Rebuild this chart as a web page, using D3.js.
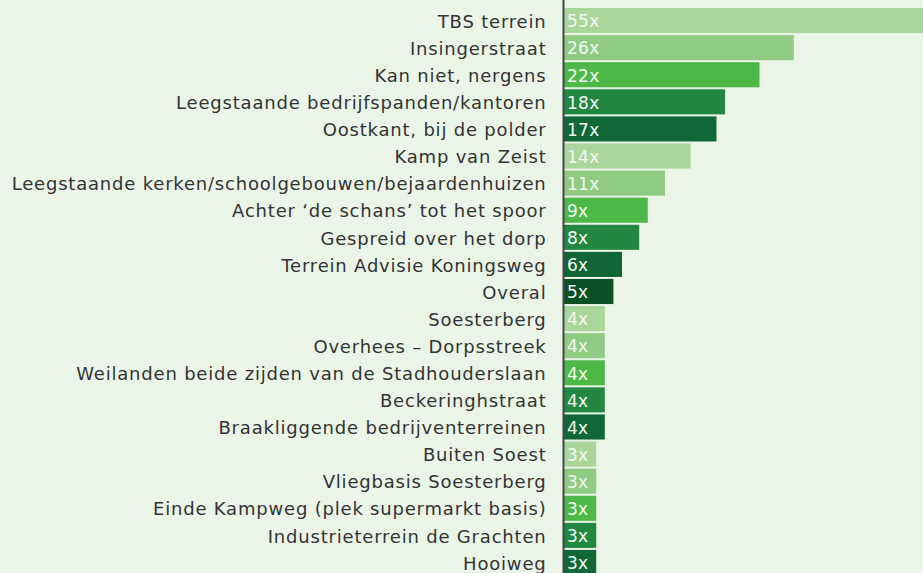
<!DOCTYPE html>
<html>
<head>
<meta charset="utf-8">
<script src="https://cdn.jsdelivr.net/npm/d3@7"></script>
<style>
  html, body { margin:0; padding:0; background:#eaf5e8; overflow:hidden; }
  svg { display:block; }
</style>
</head>
<body>
<svg id="chart"></svg>
<script>
const locations = [
  'TBS terrein', 'Insingerstraat', 'Kan niet, nergens',
  'Leegstaande bedrijfspanden/kantoren', 'Oostkant, bij de polder',
  'Kamp van Zeist', 'Leegstaande kerken/schoolgebouwen/bejaardenhuizen',
  'Achter \u2018de schans\u2019 tot het spoor', 'Gespreid over het dorp',
  'Terrein Advisie Koningsweg', 'Overal', 'Soesterberg',
  'Overhees \u2013 Dorpsstreek', 'Weilanden beide zijden van de Stadhouderslaan',
  'Beckeringhstraat', 'Braakliggende bedrijventerreinen', 'Buiten Soest',
  'Vliegbasis Soesterberg', 'Einde Kampweg (plek supermarkt basis)',
  'Industrieterrein de Grachten', 'Hooiweg'
];
const counts = [55, 26, 22, 18, 17, 14, 11, 9, 8, 6, 5, 4, 4, 4, 4, 4, 3, 3, 3, 3, 3];
const barColors = [
  '#aad69b', '#8fcb83', '#4db848', '#218741', '#106836',
  '#aad69b', '#8fcb83', '#4db848', '#218741', '#106535', '#0b4f27',
  '#aad69b', '#8fcb83', '#4db848', '#218741', '#106836',
  '#aad69b', '#8fcb83', '#4db848', '#218741', '#106836'
];

const width = 923, height = 573;
const margin = { top: 8, left: 564 };

const svg = d3.select('#chart')
  .attr('width', width)
  .attr('height', height);

// y bands, 27px per row
const y = d3.scaleBand()
  .domain(locations)
  .range([margin.top, margin.top + 27 * locations.length])
  .paddingInner(2 / 27)
  .paddingOuter(0);

// bars have a small base width, 55x runs off the right edge
const x = d3.scaleLinear().domain([-0.75, 55]).range([margin.left, margin.left + 479]);

svg.append('g')
  .selectAll('rect')
  .data(counts)
  .enter()
  .append('rect')
  .attr('x', margin.left)
  .attr('y', (d, i) => y(locations[i]))
  .attr('width', d => x(d) - margin.left)
  .attr('height', y.bandwidth())
  .attr('fill', (d, i) => barColors[i]);

// value labels in the bars
svg.append('g')
  .selectAll('text')
  .data(counts)
  .enter()
  .append('text')
  .attr('x', margin.left + 3)
  .attr('y', (d, i) => y(locations[i]) + y.bandwidth() / 2)
  .attr('dy', '0.4em')
  .style('font-family', '"DejaVu Sans", Verdana, sans-serif')
  .style('font-size', '17px')
  .style('letter-spacing', '0.3px')
  .style('fill', '#f4f8f2')
  .text(d => d + 'x');

// category axis
const yAxis = d3.axisLeft(y).tickSize(0).tickPadding(17);
const gy = svg.append('g')
  .attr('transform', `translate(${margin.left - 0.5},0)`)
  .call(yAxis);
gy.select('.domain')
  .attr('d', `M0,0V${height}`)
  .attr('stroke', '#444')
  .attr('stroke-width', 2);
gy.selectAll('text')
  .attr('dy', '0.4em')
  .style('font-family', '"DejaVu Sans", Verdana, sans-serif')
  .style('font-size', '18px')
  .style('letter-spacing', '0.8px')
  .style('fill', '#333');
</script>
</body>
</html>
